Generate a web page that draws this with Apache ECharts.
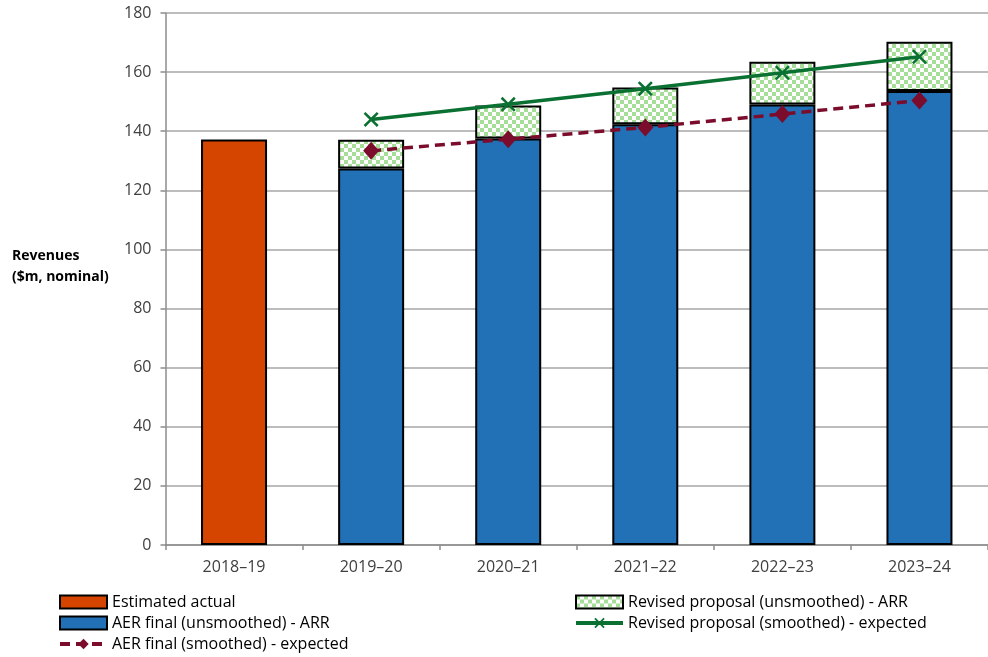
<!DOCTYPE html>
<html>
<head>
<meta charset="utf-8">
<script src="https://cdn.jsdelivr.net/npm/echarts@6/dist/echarts.min.js"></script>
<style>
  html, body { margin: 0; padding: 0; background: #fff; }
  #chart { width: 988px; height: 657px; }
</style>
</head>
<body>
<div id="chart"></div>
<script>
// Regulatory years
const years = ['2018–19', '2019–20', '2020–21', '2021–22', '2022–23', '2023–24'];

// Revenues, $m nominal
const estimatedActual = [137.2, null, null, null, null, null];
const aerFinalUnsmoothed = [null, 127.4, 137.5, 142.4, 149.0, 153.6];
const revisedUnsmoothedTotal = [null, 137.1, 148.7, 154.8, 163.5, 170.3];
const aerFinalSmoothed = [null, 133.4, 137.3, 141.3, 145.8, 150.4];
const revisedSmoothed = [null, 144.0, 149.1, 154.4, 159.8, 165.2];

// Y axis ticks
const yMin = 0, yMax = 180, yStep = 20;

// Portion of the revised proposal sitting above the AER final bar
const revisedIncrement = revisedUnsmoothedTotal.map((v, i) =>
  v == null ? '-' : +(v - aerFinalUnsmoothed[i]).toFixed(1));
const dashIfNull = arr => arr.map(v => v == null ? '-' : v);

// Green/white checkerboard fill
function checker() {
  const c = document.createElement('canvas');
  c.width = 8; c.height = 8;
  const g = c.getContext('2d');
  g.fillStyle = '#ffffff'; g.fillRect(0, 0, 8, 8);
  g.fillStyle = '#a6dd98';
  g.fillRect(0, 0, 4, 4);
  g.fillRect(4, 4, 4, 4);
  return c;
}
const checkerFill = { image: checker(), repeat: 'repeat' };

const crossSymbol = 'path://M0,1.2L1.2,0L5,3.8L8.8,0L10,1.2L6.2,5L10,8.8L8.8,10L5,6.2L1.2,10L0,8.8L3.8,5Z';

const maroon = '#7b0c2c';
const green = '#0a7132';
const font = '"Open Sans", "Liberation Sans", sans-serif';
const chart = echarts.init(document.getElementById('chart'), null, { renderer: 'canvas' });

const legendBase = {
  orient: 'vertical',
  top: 594, height: 80, padding: 0,
  itemWidth: 47, itemHeight: 13, itemGap: 5,
  textStyle: { fontSize: 16, color: '#000', fontFamily: font }
};

chart.setOption({
  animation: false,
  backgroundColor: '#ffffff',
  textStyle: { fontFamily: font },
  grid: { left: 165.5, top: 13, width: 831, height: 532, containLabel: false },
  graphic: [{
    type: 'text',
    left: 12, top: 246,
    style: {
      text: 'Revenues\n($m, nominal)',
      font: 'bold 14px ' + font,
      fill: '#000',
      align: 'center',
      lineHeight: 21,
      x: 38
    }
  }],
  legend: [Object.assign({}, legendBase, {
    left: 58,
    data: [
      { name: 'Estimated actual', icon: 'rect' },
      { name: 'AER final (unsmoothed) - ARR', icon: 'rect' },
      { name: 'AER final (smoothed) - expected',
        lineStyle: { width: 4, color: maroon, type: [10, 6] } }
    ]
  }), Object.assign({}, legendBase, {
    left: 574,
    data: [
      { name: 'Revised proposal (unsmoothed) - ARR', icon: 'rect' },
      { name: 'Revised proposal (smoothed) - expected',
        lineStyle: { width: 4, color: green } }
    ]
  })],
  xAxis: {
    type: 'category',
    data: years,
    boundaryGap: true,
    axisLine: { lineStyle: { color: '#8c8c8c', width: 1.5 } },
    axisTick: { show: true, length: 5, lineStyle: { color: '#8c8c8c', width: 1.5 } },
    axisLabel: { fontSize: 16, color: '#404040', margin: 14 }
  },
  yAxis: {
    type: 'value',
    min: yMin, max: yMax, interval: yStep,
    axisLine: { show: true, lineStyle: { color: '#8c8c8c', width: 1.5 } },
    axisTick: { show: true, length: 5, lineStyle: { color: '#8c8c8c', width: 1.5 } },
    axisLabel: { fontSize: 16, color: '#404040', margin: 14 },
    splitLine: { lineStyle: { color: '#a6a6a6', width: 1.5 } }
  },
  series: [{
    name: 'Estimated actual',
    type: 'bar', stack: 'rev', barWidth: 66,
    data: dashIfNull(estimatedActual),
    itemStyle: { color: '#d64500', borderColor: '#000', borderWidth: 2 }
  }, {
    name: 'AER final (unsmoothed) - ARR',
    type: 'bar', stack: 'rev', barWidth: 66,
    data: dashIfNull(aerFinalUnsmoothed),
    itemStyle: { color: '#2270b5', borderColor: '#000', borderWidth: 2 }
  }, {
    name: 'Revised proposal (unsmoothed) - ARR',
    type: 'bar', stack: 'rev', barWidth: 66,
    data: revisedIncrement,
    itemStyle: { color: checkerFill, borderColor: '#000', borderWidth: 2 }
  }, {
    name: 'AER final (smoothed) - expected',
    type: 'line',
    data: dashIfNull(aerFinalSmoothed),
    symbol: 'diamond', symbolSize: [16, 18],
    lineStyle: { color: maroon, width: 3.5, type: [10, 6] },
    itemStyle: { color: maroon },
    z: 5
  }, {
    name: 'Revised proposal (smoothed) - expected',
    type: 'line',
    data: dashIfNull(revisedSmoothed),
    symbol: crossSymbol, symbolSize: 15,
    lineStyle: { color: green, width: 3.5 },
    itemStyle: { color: green },
    z: 6
  }]
});
</script>
</body>
</html>
